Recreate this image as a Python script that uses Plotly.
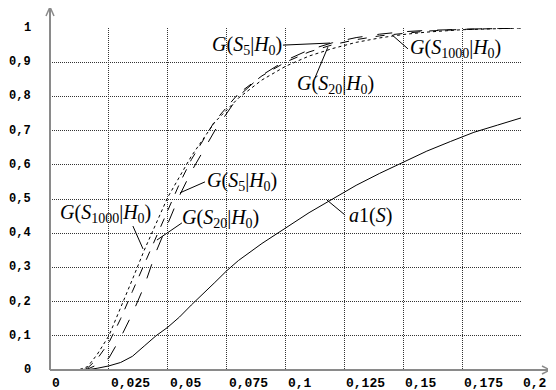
import plotly.graph_objects as go

# ---------------- data ----------------
x_g = [0, 0.012, 0.016, 0.02, 0.025, 0.03, 0.035, 0.04, 0.045, 0.05, 0.055, 0.06,
       0.07, 0.08, 0.09, 0.1, 0.11, 0.12, 0.13, 0.14, 0.15, 0.16, 0.175, 0.19, 0.2]
g_s1000 = [0, 0, 0.01, 0.045, 0.1, 0.18, 0.265, 0.35, 0.43, 0.505, 0.565, 0.625,
           0.725, 0.795, 0.848, 0.888, 0.918, 0.94, 0.958, 0.971, 0.981, 0.988, 0.995, 0.998, 1.0]
g_s20 = [0, 0, 0.006, 0.032, 0.08, 0.15, 0.23, 0.31, 0.385, 0.465, 0.545, 0.615,
         0.728, 0.808, 0.86, 0.9, 0.93, 0.951, 0.966, 0.977, 0.985, 0.991, 0.996, 0.999, 1.0]
g_s5 = [0, 0, 0.003, 0.015, 0.035, 0.095, 0.165, 0.245, 0.345, 0.43, 0.51, 0.58,
        0.70, 0.80, 0.862, 0.905, 0.936, 0.957, 0.972, 0.982, 0.989, 0.993, 0.997, 0.999, 1.0]

x_a1 = [0, 0.015, 0.02, 0.025, 0.03, 0.035, 0.04, 0.045, 0.05, 0.055, 0.06, 0.065, 0.07,
        0.075, 0.08, 0.09, 0.1, 0.11, 0.12, 0.13, 0.14, 0.15, 0.16, 0.17, 0.18, 0.19, 0.2]
a1 = [0, 0, 0.005, 0.012, 0.022, 0.04, 0.07, 0.1, 0.125, 0.155, 0.19, 0.222, 0.256,
      0.29, 0.32, 0.37, 0.415, 0.46, 0.50, 0.54, 0.575, 0.608, 0.64, 0.668, 0.695, 0.716, 0.737]

x_ticks = [0, 0.025, 0.05, 0.075, 0.1, 0.125, 0.15, 0.175, 0.2]
x_tick_text = ["0", "0,025", "0,05", "0,075", "0,1", "0,125", "0,15", "0,175", "0,2"]
y_ticks = [0, 0.1, 0.2, 0.3, 0.4, 0.5, 0.6, 0.7, 0.8, 0.9, 1.0]
y_tick_text = ["0", "0,1", "0,2", "0,3", "0,4", "0,5", "0,6", "0,7", "0,8", "0,9", "1"]

lbl_s5 = "<i>G</i>(<i>S</i><sub>5</sub>|<i>H</i><sub>0</sub>)"
lbl_s20 = "<i>G</i>(<i>S</i><sub>20</sub>|<i>H</i><sub>0</sub>)"
lbl_s1000 = "<i>G</i>(<i>S</i><sub>1000</sub>|<i>H</i><sub>0</sub>)"
lbl_a1 = "<i>a</i>1(<i>S</i>)"

# (text, x, y, xanchor, leader x0, y0, x1, y1)
labels = [
    (lbl_s1000, 0.0035, 0.459, "left", 0.0352, 0.421, 0.0395, 0.354),
    (lbl_s5, 0.0658, 0.55, "left", 0.0658, 0.55, 0.0552, 0.518),
    (lbl_s20, 0.0552, 0.444, "left", 0.056, 0.43, 0.0454, 0.38),
    (lbl_a1, 0.126, 0.453, "left", 0.1176, 0.497, 0.1253, 0.453),
    (lbl_s5, 0.0993, 0.950, "right", 0.0989, 0.950, 0.1189, 0.956),
    (lbl_s20, 0.104, 0.836, "left", 0.1125, 0.854, 0.118, 0.944),
    (lbl_s1000, 0.152, 0.939, "left", 0.152, 0.939, 0.1452, 0.98),
]

# ---------------- figure ----------------
fig = go.Figure()
fig.add_trace(go.Scatter(x=x_g, y=g_s1000, mode="lines", line=dict(color="black", width=1, dash="dot")))
fig.add_trace(go.Scatter(x=x_g, y=g_s20, mode="lines", line=dict(color="black", width=1, dash="dash")))
fig.add_trace(go.Scatter(x=x_g, y=g_s5, mode="lines", line=dict(color="black", width=1, dash="longdash")))
fig.add_trace(go.Scatter(x=x_a1, y=a1, mode="lines", line=dict(color="black", width=1)))

# page body has an 8px margin: figure drawn at (8, 8)
OFF = 8
W, H = 556 - OFF, 390 - OFF
PL, PT, PR, PB = 50, 28, 521, 370      # plot area edges in page pixels
L, T = PL - OFF, PT - OFF
R, B = W - (PR - OFF), H - (PB - OFF)
pw, ph = PR - PL, PB - PT

def px_x(p):
    return (p - PL) / pw

def px_y(p):
    return (PB - p) / ph

shapes = []
axis_col = "#8a8a8a"
# x axis with arrow
shapes.append(dict(type="line", xref="paper", yref="paper", x0=0, y0=0, x1=px_x(549), y1=0,
                   line=dict(color=axis_col, width=2)))
shapes.append(dict(type="path", xref="paper", yref="paper",
                   path=f"M {px_x(542)} {px_y(366)} L {px_x(550)} {px_y(370)} L {px_x(542)} {px_y(374)}",
                   line=dict(color=axis_col, width=1.5)))
# y axis with arrow
shapes.append(dict(type="line", xref="paper", yref="paper", x0=0, y0=0, x1=0, y1=px_y(8),
                   line=dict(color=axis_col, width=2)))
shapes.append(dict(type="path", xref="paper", yref="paper",
                   path=f"M {px_x(46)} {px_y(16)} L {px_x(50)} {px_y(7)} L {px_x(54)} {px_y(16)}",
                   line=dict(color=axis_col, width=1.5)))

annotations = []
for (txt, tx, ty, anc, lx0, ly0, lx1, ly1) in labels:
    annotations.append(dict(text=txt, x=tx, y=ty, xref="x", yref="y", xanchor=anc, yanchor="middle",
                            showarrow=False, font=dict(family="Liberation Serif", size=20, color="black")))
    shapes.append(dict(type="line", xref="x", yref="y", x0=lx0, y0=ly0, x1=lx1, y1=ly1,
                       line=dict(color="black", width=1)))

x_tick_font = dict(family="Liberation Mono", size=13, color="black", weight="bold")
y_tick_font = dict(family="Liberation Mono", size=12, color="black", weight="bold")
for v, t in zip(x_ticks, x_tick_text):
    annotations.append(dict(text=t, x=v, y=px_y(383), xref="x", yref="paper", xanchor="left",
                            yanchor="middle", showarrow=False, font=x_tick_font))
for v, t in zip(y_ticks, y_tick_text):
    annotations.append(dict(text=t, x=px_x(33), y=v, xref="paper", yref="y", xanchor="right",
                            yanchor="middle", showarrow=False, font=y_tick_font))

fig.update_layout(
    width=W, height=H,
    margin=dict(l=L, r=R, t=T, b=B),
    paper_bgcolor="white", plot_bgcolor="white",
    showlegend=False,
    shapes=shapes,
    annotations=annotations,
    xaxis=dict(range=[0, 0.2], tickvals=x_ticks, showticklabels=False, ticks="",
               showgrid=True, gridcolor="#333333", griddash="1px,1px", gridwidth=1,
               zeroline=False, showline=False),
    yaxis=dict(range=[0, 1], tickvals=y_ticks, showticklabels=False, ticks="",
               showgrid=True, gridcolor="#333333", griddash="1px,1px", gridwidth=1,
               zeroline=False, showline=False),
)

fig.write_html("out.html")
